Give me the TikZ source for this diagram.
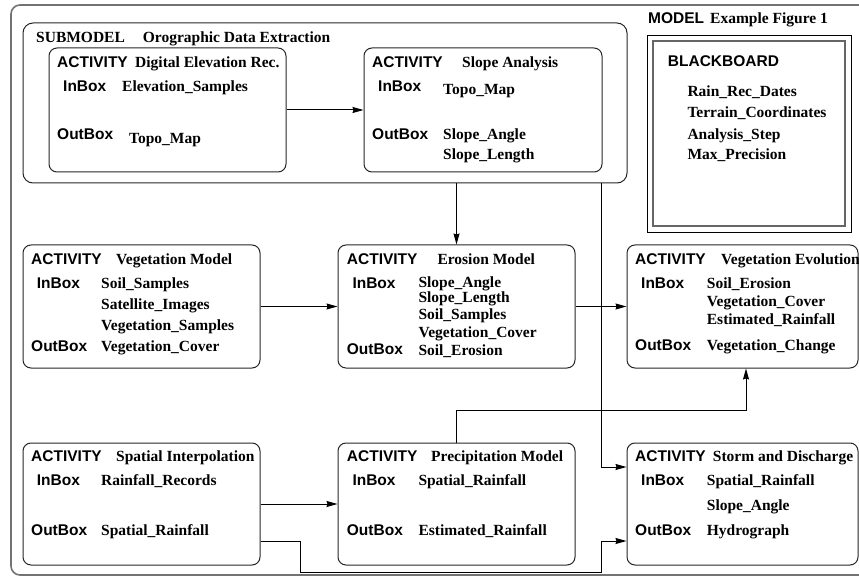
\documentclass[tikz,border=0pt]{standalone}
\usepackage{fontspec}
\setmainfont{Liberation Serif}
\newfontfamily\hvfont{Liberation Sans}
\usetikzlibrary{arrows.meta}
\begin{document}
\begin{tikzpicture}[x=1pt,y=-1pt,
  boxline/.style={draw=black!85, line width=1pt, rounded corners=8pt},
  actbox/.style={boxline, rectangle, inner sep=0pt},
  kw/.style={anchor=base west, inner sep=0pt, font=\hvfont\fontsize{15.5}{18}\selectfont\bfseries},
  val/.style={anchor=base west, inner sep=0pt, font=\fontsize{15.5}{18}\selectfont\bfseries},
  link/.style={draw=black, line width=1pt},
  arr/.style={link, -{Stealth[length=11pt,width=6pt,inset=1pt]}}]
\useasboundingbox (0,0) rectangle (859,577);
\clip (0,0) rectangle (859,577);

% model frame (runs off the right edge)
\draw[draw=black!55, line width=1.6pt, rounded corners=9pt]
  (900,5) -- (11,5) -- (11,575) -- (900,575);
\node[kw]  (mdlK) at (648,23.3) {MODEL};
\node[val] (mdlV) at (710,23.3) {Example Figure 1};

% blackboard
\node[rectangle, draw=black, line width=0.8pt, minimum width=204pt, minimum height=197pt, inner sep=0pt] (bbo) at (749,133.5) {};
\node[rectangle, draw=black!60, line width=1.4pt, minimum width=192pt, minimum height=185pt, inner sep=0pt] (bbi) at (749,133.5) {};
\node[kw]  (bbK)  at (667.7,66.7) {BLACKBOARD};
\node[val] (bbV1) at (687.3,97) {Rain\_Rec\_Dates};
\node[val] (bbV2) at (687.3,117.3) {Terrain\_Coordinates};
\node[val] (bbV3) at (687.3,139.3) {Analysis\_Step};
\node[val] (bbV4) at (687.3,159.3) {Max\_Precision};

% submodel
\node[actbox, rounded corners=10pt, minimum width=604pt, minimum height=160pt] (sub) at (325,103) {};
\node[val] (subK) at (36,42.7) {SUBMODEL};
\node[val] (subV) at (142.7,42.7) {Orographic Data Extraction};

% Digital Elevation Rec.
\node[actbox, minimum width=237pt, minimum height=124pt] (der) at (167.5,110) {};
\node[kw]  (derK)  at (57,67.7) {ACTIVITY};
\node[val] (derN)  at (135,67.7) {Digital Elevation Rec.};
\node[kw]  (derI)  at (63,91.7) {InBox};
\node[val] (derI1) at (122,91.7) {Elevation\_Samples};
\node[kw]  (derO)  at (57,140) {OutBox};
\node[val] (derO1) at (129,143.3) {Topo\_Map};

% Slope Analysis
\node[actbox, minimum width=238pt, minimum height=124pt] (slope) at (483,110) {};
\node[kw]  (slK)  at (372,67.7) {ACTIVITY};
\node[val] (slN)  at (462,67.7) {Slope Analysis};
\node[kw]  (slI)  at (378,91.7) {InBox};
\node[val] (slI1) at (443,95) {Topo\_Map};
\node[kw]  (slO)  at (372,140) {OutBox};
\node[val] (slO1) at (443,139.3) {Slope\_Angle};
\node[val] (slO2) at (443,159.3) {Slope\_Length};

% Vegetation Model
\node[actbox, minimum width=237pt, minimum height=123pt] (veg) at (141.5,306.5) {};
\node[kw]  (vgK)  at (31,264.3) {ACTIVITY};
\node[val] (vgN)  at (116,264.3) {Vegetation Model};
\node[kw]  (vgI)  at (36.7,288.3) {InBox};
\node[val] (vgI1) at (101,288.3) {Soil\_Samples};
\node[val] (vgI2) at (101,309.3) {Satellite\_Images};
\node[val] (vgI3) at (101,330) {Vegetation\_Samples};
\node[kw]  (vgO)  at (31,351) {OutBox};
\node[val] (vgO1) at (101,351) {Vegetation\_Cover};

% Erosion Model
\node[actbox, minimum width=237pt, minimum height=123pt] (ero) at (456.5,306.5) {};
\node[kw]  (erK)  at (346.7,264.3) {ACTIVITY};
\node[val] (erN)  at (437.3,264.3) {Erosion Model};
\node[kw]  (erI)  at (352.3,288.3) {InBox};
\node[val] (erI1) at (418.3,287.3) {Slope\_Angle};
\node[val] (erI2) at (418.3,302.3) {Slope\_Length};
\node[val] (erI3) at (418.3,319) {Soil\_Samples};
\node[val] (erI4) at (418.3,337.7) {Vegetation\_Cover};
\node[kw]  (erO)  at (346.7,354) {OutBox};
\node[val] (erO1) at (418.3,355) {Soil\_Erosion};

% Vegetation Evolution
\node[actbox, minimum width=231pt, minimum height=123pt] (vevo) at (742.5,306.5) {};
\node[kw]  (veK)  at (635,264.3) {ACTIVITY};
\node[val] (veN)  at (721,264.3) {Vegetation Evolution};
\node[kw]  (veI)  at (641,288) {InBox};
\node[val] (veI1) at (706.7,288) {Soil\_Erosion};
\node[val] (veI2) at (706.7,306.7) {Vegetation\_Cover};
\node[val] (veI3) at (706.7,324.3) {Estimated\_Rainfall};
\node[kw]  (veO)  at (635,350) {OutBox};
\node[val] (veO1) at (706.7,350) {Vegetation\_Change};

% Spatial Interpolation
\node[actbox, minimum width=237pt, minimum height=122pt] (si) at (141.5,504) {};
\node[kw]  (siK)  at (31,461.7) {ACTIVITY};
\node[val] (siN)  at (116,461.7) {Spatial Interpolation};
\node[kw]  (siI)  at (36.7,485) {InBox};
\node[val] (siI1) at (101,485) {Rainfall\_Records};
\node[kw]  (siO)  at (31,535) {OutBox};
\node[val] (siO1) at (101,535) {Spatial\_Rainfall};

% Precipitation Model
\node[actbox, minimum width=237pt, minimum height=122pt] (prec) at (456.5,504) {};
\node[kw]  (prK)  at (346.7,461.7) {ACTIVITY};
\node[val] (prN)  at (431,461.7) {Precipitation Model};
\node[kw]  (prI)  at (352.3,485) {InBox};
\node[val] (prI1) at (418.3,485) {Spatial\_Rainfall};
\node[kw]  (prO)  at (346.7,535) {OutBox};
\node[val] (prO1) at (418.3,535) {Estimated\_Rainfall};

% Storm and Discharge
\node[actbox, minimum width=231pt, minimum height=122pt] (storm) at (742.5,504) {};
\node[kw]  (stK)  at (635,461.7) {ACTIVITY};
\node[val] (stN)  at (712.7,461.7) {Storm and Discharge};
\node[kw]  (stI)  at (641,485) {InBox};
\node[val] (stI1) at (706.7,485) {Spatial\_Rainfall};
\node[val] (stI2) at (706.7,510) {Slope\_Angle};
\node[kw]  (stO)  at (635,535) {OutBox};
\node[val] (stO1) at (706.7,535) {Hydrograph};

% data flow
\draw[arr] (der.east) -- (slope.west);
\draw[arr] (ero.north |- sub.south) -- (ero.north);
\draw[arr] ([xshift=-25pt]storm.west |- sub.south) -- ([xshift=-25pt,yshift=37pt]storm.west) -- ([yshift=37pt]storm.west);
\draw[arr] (veg.east) -- (ero.west);
\draw[arr] (ero.east) -- (vevo.west);
\draw[arr] (prec.north) -- ++(0,-32) -| ([xshift=3.5pt]vevo.south);
\draw[arr] (si.east) -- (prec.west);
\draw[arr] ([yshift=-37pt]si.east) -| ++(40,31) -| ([xshift=-25pt,yshift=-37pt]storm.west) -- ([yshift=-37pt]storm.west);
\end{tikzpicture}
\end{document}
